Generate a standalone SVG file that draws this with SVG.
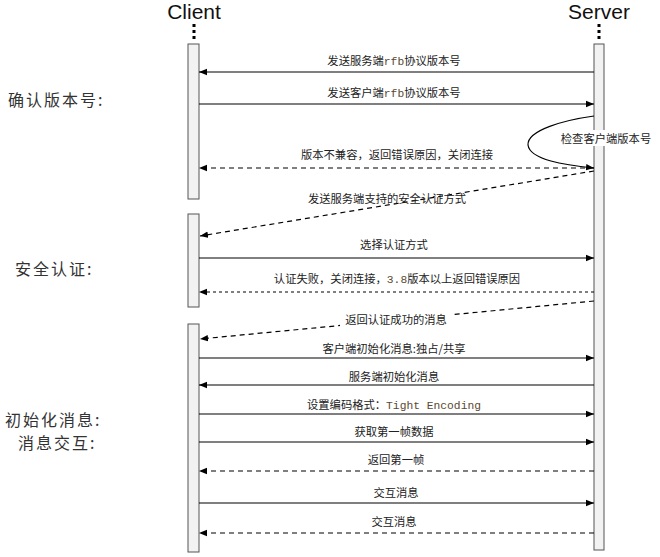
<svg xmlns="http://www.w3.org/2000/svg" width="660" height="557" viewBox="0 0 660 557">
<defs>
<marker id="ah" viewBox="0 0 10 10" refX="10" refY="5" markerWidth="8" markerHeight="8" orient="auto-start-reverse" markerUnits="userSpaceOnUse"><path d="M0,1 L10,5 L0,9 Z" fill="#000"/></marker>
</defs>
<style>
.t{font-family:"Noto Sans CJK SC","Liberation Sans",sans-serif;font-size:11.3px;fill:#222;text-anchor:middle}
.h{font-family:"Liberation Sans","Open Sans",sans-serif;font-size:21px;fill:#111;text-anchor:middle}
.side{font-family:"Noto Sans CJK SC",sans-serif;font-size:16px;fill:#333;letter-spacing:2px}
.bar{fill:#f2f2f2;stroke:#555;stroke-width:1}
.sol{stroke:#000;stroke-width:1.2;fill:none;marker-end:url(#ah)}
.dash{stroke:#000;stroke-width:1.2;fill:none;stroke-dasharray:5,4;marker-end:url(#ah)}
.dash2{stroke:#000;stroke-width:1;fill:none;stroke-dasharray:3,3;marker-end:url(#ah)}
.dot{stroke:#000;stroke-width:3;stroke-dasharray:3,3}
.mono{font-family:"Liberation Mono",monospace;fill:#5a4a30}
</style>
<rect width="660" height="557" fill="#fff"/>
<g id="client">
<text class="h" x="194" y="19">Client</text>
<line class="dot" x1="194" y1="24" x2="194" y2="42"/>
<rect class="bar" x="188" y="44" width="11" height="155"/>
<rect class="bar" x="188" y="214" width="11" height="93"/>
<rect class="bar" x="188" y="324" width="11" height="228"/>
</g>
<g id="server">
<text class="h" x="599" y="19">Server</text>
<line class="dot" x1="599" y1="24" x2="599" y2="42"/>
<rect class="bar" x="594" y="44" width="10" height="506"/>
</g>
<g id="labels-side">
<text class="side" x="8" y="106">确认版本号:</text>
<text class="side" x="15" y="275">安全认证:</text>
<text class="side" x="5" y="426">初始化消息:</text>
<text class="side" x="18" y="449">消息交互:</text>
</g>
<g id="connectors">
<line class="sol" x1="594" y1="72" x2="199" y2="72"/>
<text class="t" x="394" y="65">发送服务端<tspan class="mono">rfb</tspan>协议版本号</text>
<line class="sol" x1="199" y1="104" x2="594" y2="104"/>
<text class="t" x="394" y="97">发送客户端<tspan class="mono">rfb</tspan>协议版本号</text>
<path class="sol" d="M594,116 C565,120 527,130 528,145 C530,160 565,165 594,168"/>
<rect x="556" y="130" width="100" height="16" fill="#fff"/>
<text class="t" x="606" y="143">检查客户端版本号</text>
<line class="dash" x1="594" y1="168" x2="199" y2="168"/>
<text class="t" x="397" y="159">版本不兼容，返回错误原因，关闭连接</text>
<line class="dash" x1="594" y1="171" x2="200" y2="236"/>
<text class="t" x="387" y="203">发送服务端支持的安全认证方式</text>
<line class="sol" x1="199" y1="258" x2="594" y2="258"/>
<text class="t" x="394" y="249">选择认证方式</text>
<line class="dash2" x1="594" y1="292" x2="199" y2="292"/>
<text class="t" x="397" y="283">认证失败，关闭连接，<tspan class="mono">3.8</tspan>版本以上返回错误原因</text>
<line class="dash" x1="594" y1="301" x2="200" y2="339"/>
<rect x="340" y="311" width="112" height="16" fill="#fff"/>
<text class="t" x="396" y="324">返回认证成功的消息</text>
<line class="sol" x1="199" y1="358" x2="594" y2="358"/>
<text class="t" x="394" y="353">客户端初始化消息:独占/共享</text>
<line class="sol" x1="594" y1="385" x2="199" y2="385"/>
<text class="t" x="394" y="381">服务端初始化消息</text>
<line class="sol" x1="199" y1="414" x2="594" y2="414"/>
<text class="t" x="394" y="409">设置编码格式：<tspan class="mono">Tight Encoding</tspan></text>
<line class="sol" x1="199" y1="442" x2="594" y2="442"/>
<text class="t" x="394" y="436">获取第一帧数据</text>
<line class="dash" x1="594" y1="471" x2="199" y2="471"/>
<text class="t" x="396" y="464">返回第一帧</text>
<line class="sol" x1="199" y1="503" x2="594" y2="503"/>
<text class="t" x="396" y="497">交互消息</text>
<line class="dash" x1="594" y1="533" x2="199" y2="533"/>
<text class="t" x="394" y="526">交互消息</text>
</g>
</svg>
